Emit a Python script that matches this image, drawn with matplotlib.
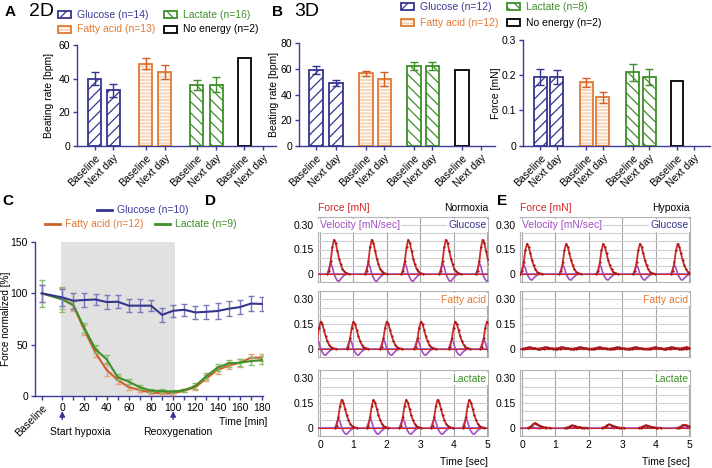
import numpy as np
import matplotlib
matplotlib.use('Agg')
import matplotlib.pyplot as plt
from matplotlib.patches import Rectangle
from matplotlib.lines import Line2D

W, H = 712, 468

# --- bar panels (A, B) ---
conditions = ['Glucose', 'Fatty acid', 'Lactate', 'No energy']
day_labels = ['Baseline', 'Next day']
n_2d = [14, 13, 16, 2]
n_3d = [12, 12, 8, 2]

rate_2d = [40, 33, 49, 44, 36, 36.5, 52, np.nan]
rate_2d_err = [4, 4, 3.5, 4, 3, 4.5, 0, 0]
rate_3d = [59, 49, 56.5, 52, 62.5, 62.5, 59.5, np.nan]
rate_3d_err = [3, 2.5, 2, 5.5, 3, 3, 0, 0]
force_3d = [0.195, 0.195, 0.18, 0.137, 0.208, 0.195, 0.185, np.nan]
force_3d_err = [0.022, 0.02, 0.012, 0.015, 0.025, 0.023, 0, 0]

# --- hypoxia time course (C) ---
hyp_time = [0, 10, 20, 30, 40, 50, 60, 70, 80, 90, 100,
            110, 120, 130, 140, 150, 160, 170, 180]
n_hyp = [10, 12, 9]
# first value = Baseline
glc_force = [100, 96, 92.8, 93.5, 94, 91.5, 91.8, 88, 88, 88, 79,
             83, 84, 81.4, 82, 82.8, 85, 86.5, 90, 89.7]
glc_err = [8, 8, 8, 7, 5.5, 7, 6.5, 6.5, 6, 5.5, 7,
           6, 6, 6.5, 7, 7.5, 7.5, 7, 7, 7]
fa_force = [100, 95, 88, 64, 42, 25.3, 15.6, 8.5, 5.8, 3.3, 2.6,
            2.6, 5.2, 8.5, 17.2, 25.3, 29.5, 32.4, 37.3, 37.3]
fa_err = [8, 10, 5, 5, 4, 6, 4, 3, 2, 1.5, 1.5,
          1.5, 1.5, 2.5, 3, 3.5, 3.5, 4, 3.5, 3.5]
lac_force = [100, 94, 88.6, 66, 45.5, 35.7, 18.2, 14, 8.5, 5.2, 4.9,
             4.2, 5.8, 9.7, 19.5, 27.6, 31.8, 32.4, 34, 35]
lac_err = [13, 12, 4, 5, 4, 4, 3, 2.5, 2, 1.5, 1.5,
           1.5, 1.5, 2.5, 3, 3.5, 3.5, 3.5, 4, 3.5]

# --- force traces (D, E): one beat shape ---
beat_t = [-0.2, -0.15, -0.1, -0.05, 0, 0.05, 0.1, 0.15, 0.2, 0.25, 0.3, 0.35, 0.45]
beat_force = [0, 0.08, 0.38, 0.78, 1, 0.9, 0.68, 0.45, 0.28, 0.15, 0.07, 0.03, 0]
beat_vel = [0, 0.5, 1.0, 0.6, 0, -0.35, -0.6, -0.65, -0.45, -0.28, -0.14, -0.05, 0]

nx_glc_peaks = [0.42, 1.55, 2.64, 3.77, 4.87]
nx_glc_force = [0.21, 0.21, 0.21, 0.21, 0.21]
nx_glc_vel = [0.07, 0.07, 0.07, 0.07, 0.07]
nx_fa_peaks = [0.02, 1.0, 2.0, 3.02, 4.05, 5.0]
nx_fa_force = [0.165, 0.165, 0.165, 0.165, 0.165, 0.165]
nx_fa_vel = [0.06, 0.06, 0.06, 0.06, 0.06, 0.06]
nx_lac_peaks = [0.65, 1.6, 2.58, 3.52, 4.47]
nx_lac_force = [0.17, 0.17, 0.17, 0.17, 0.17]
nx_lac_vel = [0.06, 0.06, 0.06, 0.06, 0.06]

hx_glc_peaks = [0.15, 1.32, 2.43, 3.53, 4.66]
hx_glc_force = [0.185, 0.185, 0.185, 0.185, 0.185]
hx_glc_vel = [0.058, 0.058, 0.058, 0.058, 0.058]
hx_fa_peaks = [0.2, 0.69, 1.18, 1.72, 2.3, 2.84, 3.38, 3.97, 4.46, 4.9]
hx_fa_force = [0.009, 0.009, 0.009, 0.009, 0.009, 0.009, 0.009, 0.009, 0.009, 0.009]
hx_fa_vel = [0.003, 0.003, 0.003, 0.003, 0.003, 0.003, 0.003, 0.003, 0.003, 0.003]
hx_lac_peaks = [0.38, 1.5, 2.6, 3.7, 4.85]
hx_lac_force = [0.028, 0.014, 0.02, 0.015, 0.018]
hx_lac_vel = [0.008, 0.004, 0.006, 0.004, 0.005]

AXIS = '#3c3c96'
GLC = '#35358f'
FA = '#e07a35'
FA_DARK = '#d0602a'
LAC = '#3f8f2a'
FS = 7.5

bar_style = {
    'Glucose': dict(edge=GLC, face='white', hatch='///', hatch_col=GLC),
    'Fatty acid': dict(edge=FA, face='#f7d7bb', hatch='-----', hatch_col='white'),
    'Lactate': dict(edge=LAC, face='white', hatch='\\\\\\', hatch_col=LAC),
    'No energy': dict(edge='black', face='white', hatch='', hatch_col='white'),
}
err_col = {'Glucose': GLC, 'Fatty acid': FA_DARK, 'Lactate': LAC, 'No energy': 'black'}
text_col = {'Glucose': '#3b3b9a', 'Fatty acid': FA, 'Lactate': LAC, 'No energy': 'black'}


def px_axes(fig, left, top, right, bottom):
    return fig.add_axes([left / W, 1 - bottom / H, (right - left) / W, (bottom - top) / H])


def style_axes(ax):
    for s in ['top', 'right']:
        ax.spines[s].set_visible(False)
    for s in ['left', 'bottom']:
        ax.spines[s].set_color(AXIS)
        ax.spines[s].set_linewidth(1.0)
    ax.tick_params(colors=AXIS, labelcolor='black', labelsize=FS, length=3, width=1, pad=2)


def set_ylabel_px(ax, text, x_px, left, right, size=FS):
    # place the y label centre at a given pixel column
    ax.set_ylabel(text, fontsize=size)
    ax.yaxis.label.set_va('center')
    ax.yaxis.set_label_coords((x_px - left) / (right - left), 0.5)


def bar_panel(ax, pos, means, errs, ylim, yticks, yticklabels, width=0.7):
    style_axes(ax)
    for i, (p, m, e) in enumerate(zip(pos, means, errs)):
        if np.isnan(m):
            continue
        cond = conditions[i // 2]
        st = bar_style[cond]
        ax.bar(p, m, width, color=st['face'], edgecolor=st['hatch_col'],
               hatch=st['hatch'], linewidth=0, zorder=2)
        ax.bar(p, m, width, color='none', edgecolor=st['edge'], linewidth=1.3, zorder=3)
        if e > 0:
            ax.errorbar(p, m, yerr=e, color=err_col[cond], capsize=3,
                        elinewidth=1, capthick=1, zorder=4)
    ax.set_xticks(pos)
    ax.set_xticklabels(day_labels * 4, rotation=45, ha='right', rotation_mode='anchor')
    ax.set_ylim(*ylim)
    ax.set_yticks(yticks)
    ax.set_yticklabels(yticklabels)


def legend_box(fig, x, y, cond, label):
    st = bar_style[cond]
    r1 = Rectangle((x / W, 1 - (y + 3.5) / H), 13 / W, 7 / H, transform=fig.transFigure,
                   facecolor=st['face'], edgecolor=st['hatch_col'], hatch=st['hatch'], lw=0)
    r2 = Rectangle((x / W, 1 - (y + 3.5) / H), 13 / W, 7 / H, transform=fig.transFigure,
                   facecolor='none', edgecolor=st['edge'], lw=1.3)
    fig.add_artist(r1)
    fig.add_artist(r2)
    fig.text((x + 19) / W, 1 - y / H, label, color=text_col[cond], va='center', fontsize=FS)


def legend_line(fig, x, y, color, label, tcolor):
    fig.add_artist(Line2D([x / W, (x + 15) / W], [1 - y / H, 1 - y / H], color=color,
                          lw=2, transform=fig.transFigure))
    fig.text((x + 20) / W, 1 - y / H, label, color=tcolor, va='center', fontsize=FS)


def trace_panel(ax, peaks, famp, vamp, cond_label, cond_color, bottom=False):
    xmin, xmax = -0.06, 5.03
    ax.set_xlim(xmin, xmax)
    ax.set_ylim(-0.048, 0.344)
    ax.set_yticks([0, 0.15, 0.30])
    ax.set_yticklabels(['0', '0.15', '0.30'])
    ax.set_yticks(np.arange(-0.05, 0.36, 0.05), minor=True)
    ax.set_xticks([0, 1, 2, 3, 4, 5])
    ax.grid(which='minor', axis='y', color='#cfcfcf', lw=0.8)
    ax.grid(which='major', axis='y', color='#cfcfcf', lw=0.8)
    ax.grid(which='major', axis='x', color='#a5a5a5', lw=0.8)
    ax.tick_params(which='both', length=0, labelsize=FS, pad=3)
    for s in ax.spines.values():
        s.set_color('#b5b5b5')
        s.set_linewidth(0.8)
    if not bottom:
        ax.set_xticklabels([])
    ax.plot([xmin, xmax], [0, 0], color='#a04fc0', lw=1.2, zorder=3)
    for p, f, v in zip(peaks, famp, vamp):
        t = np.array(beat_t) + p
        ax.plot(t, np.array(beat_vel) * v, color='#a04fc0', lw=1.2, zorder=3)
    ax.plot([xmin, xmax], [0, 0], color='#d02a2a', lw=0.8, zorder=4)
    for p, f, v in zip(peaks, famp, vamp):
        t = np.array(beat_t) + p
        ax.plot(t, np.array(beat_force) * f, color='#d02a2a', lw=1.3, marker='o', ms=1.6,
                mfc='#9a1515', mec='none', zorder=4)
    ax.text(0.99, 0.87, cond_label, color=cond_color, fontsize=FS, ha='right', va='center',
            transform=ax.transAxes, zorder=6,
            bbox=dict(facecolor='white', edgecolor='none', pad=1.0))


def main():
    plt.rcParams['font.family'] = ['Liberation Sans', 'DejaVu Sans']
    plt.rcParams['hatch.linewidth'] = 0.9
    fig = plt.figure(figsize=(W / 100, H / 100), dpi=100)

    # A: 2D beating rate
    axA = px_axes(fig, 77, 45, 276, 146)
    posA = [0, 1, 2.73, 3.75, 5.45, 6.5, 8.0, 9.0]
    bar_panel(axA, posA, rate_2d, rate_2d_err, (0, 60),
              [0, 20, 40, 60], ['0', '20', '40', '60'])
    axA.set_xlim(-0.94, 9.7)
    set_ylabel_px(axA, 'Beating rate [bpm]', 49, 77, 276)

    # B: 3D beating rate and force
    axB1 = px_axes(fig, 299, 43.3, 495, 146)
    posB1 = [0, 1, 2.5, 3.42, 4.9, 5.82, 7.3, 8.25]
    bar_panel(axB1, posB1, rate_3d, rate_3d_err, (0, 80),
              [0, 20, 40, 60, 80], ['0', '20', '40', '60', '80'], width=0.68)
    axB1.set_xlim(-0.85, 8.95)
    set_ylabel_px(axB1, 'Beating rate [bpm]', 274, 299, 495)

    axB2 = px_axes(fig, 523, 40, 710, 145.7)
    posB2 = [0, 1, 2.79, 3.79, 5.6, 6.6, 8.3, 9.3]
    bar_panel(axB2, posB2, force_3d, force_3d_err, (0, 0.3),
              [0, 0.1, 0.2, 0.3], ['0', '0.1', '0.2', '0.3'], width=0.78)
    axB2.set_xlim(-1.06, 10.3)
    set_ylabel_px(axB2, 'Force [mN]', 496, 523, 710)

    # legends and titles for A/B
    fig.text(5 / W, 1 - 12 / H, 'A', fontsize=11, fontweight='bold', va='center')
    fig.text(29 / W, 1 - 11 / H, '2D', fontsize=14, va='center')
    fig.text(272 / W, 1 - 12 / H, 'B', fontsize=11, fontweight='bold', va='center')
    fig.text(294 / W, 1 - 11 / H, '3D', fontsize=14, va='center')
    legend_box(fig, 58, 14.5, 'Glucose', f'Glucose (n={n_2d[0]})')
    legend_box(fig, 164, 14.5, 'Lactate', f'Lactate (n={n_2d[2]})')
    legend_box(fig, 58, 29.5, 'Fatty acid', f'Fatty acid (n={n_2d[1]})')
    legend_box(fig, 164, 29.5, 'No energy', f'No energy (n={n_2d[3]})')
    legend_box(fig, 401, 6.7, 'Glucose', f'Glucose (n={n_3d[0]})')
    legend_box(fig, 507, 6.7, 'Lactate', f'Lactate (n={n_3d[2]})')
    legend_box(fig, 401, 22.5, 'Fatty acid', f'Fatty acid (n={n_3d[1]})')
    legend_box(fig, 507, 22.5, 'No energy', f'No energy (n={n_3d[3]})')

    # C: hypoxia time course
    axC = px_axes(fig, 35, 242, 263, 396)
    style_axes(axC)
    baseline_x = -18.5
    x = [baseline_x] + hyp_time
    axC.axvspan(-1.5, 102, color='#e1e1e1', lw=0, zorder=0)
    axC.errorbar(x, fa_force, yerr=fa_err, color=FA_DARK, ecolor='#eba27a', lw=1.5,
                 elinewidth=1, capsize=2.2, capthick=1, zorder=3)
    axC.errorbar(x, lac_force, yerr=lac_err, color=LAC, ecolor='#86c071', lw=1.5,
                 elinewidth=1, capsize=2.2, capthick=1, zorder=4)
    axC.errorbar(x, glc_force, yerr=glc_err, color=GLC, ecolor='#7a7ab8', lw=1.5,
                 elinewidth=1, capsize=2.5, capthick=1, zorder=5)
    axC.set_xlim(-24.6, 181)
    axC.set_ylim(0, 150)
    axC.set_yticks([0, 50, 100, 150])
    axC.set_xticks(x)
    xl = ['Baseline'] + [str(t) if t % 20 == 0 else '' for t in hyp_time]
    axC.set_xticklabels(xl)
    tl = axC.get_xticklabels()
    tl[0].set_rotation(45)
    tl[0].set_ha('right')
    tl[0].set_rotation_mode('anchor')
    set_ylabel_px(axC, 'Force normalized [%]', 6.5, 35, 263, size=7.2)
    axC.text(1.02, -0.17, 'Time [min]', fontsize=FS, ha='right', va='center',
             transform=axC.transAxes)
    trans = axC.get_xaxis_transform()
    for t0, label, lx in [(0, 'Start hypoxia', -11.5), (100, 'Reoxygenation', 73)]:
        axC.annotate('', xy=(t0, -0.08), xytext=(t0, -0.17), xycoords=trans, textcoords=trans,
                     arrowprops=dict(arrowstyle='-|>', color=GLC, lw=1.0, mutation_scale=8))
        axC.text(lx, -0.235, label, fontsize=FS, ha='left', va='center', transform=trans)
    fig.text(2 / W, 1 - 201 / H, 'C', fontsize=11, fontweight='bold', va='center')
    legend_line(fig, 97, 210, GLC, f'Glucose (n={n_hyp[0]})', '#3b3b9a')
    legend_line(fig, 45, 224, FA_DARK, f'Fatty acid (n={n_hyp[1]})', FA)
    legend_line(fig, 155, 224, LAC, f'Lactate (n={n_hyp[2]})', LAC)

    # D / E: force traces
    rows = [(217, 282), (291, 357), (370, 436)]
    d_data = [(nx_glc_peaks, nx_glc_force, nx_glc_vel, 'Glucose', GLC),
              (nx_fa_peaks, nx_fa_force, nx_fa_vel, 'Fatty acid', FA),
              (nx_lac_peaks, nx_lac_force, nx_lac_vel, 'Lactate', LAC)]
    e_data = [(hx_glc_peaks, hx_glc_force, hx_glc_vel, 'Glucose', GLC),
              (hx_fa_peaks, hx_fa_force, hx_fa_vel, 'Fatty acid', FA),
              (hx_lac_peaks, hx_lac_force, hx_lac_vel, 'Lactate', LAC)]
    for (left, right, data, cond_name, letter, lx) in [
            (318, 488, d_data, 'Normoxia', 'D', 205),
            (520, 690, e_data, 'Hypoxia', 'E', 497)]:
        for k, ((top, bot), (pk, fa_, va_, lab, col)) in enumerate(zip(rows, data)):
            ax = px_axes(fig, left, top, right, bot)
            trace_panel(ax, pk, fa_, va_, lab, col, bottom=(k == 2))
            if k == 0:
                ax.text(0.0, 1.14, 'Force [mN]', color='#d02a2a', fontsize=FS,
                        ha='left', va='center', transform=ax.transAxes)
                ax.text(1.0, 1.14, cond_name, color='black', fontsize=FS,
                        ha='right', va='center', transform=ax.transAxes)
                ax.text(0.01, 0.87, 'Velocity [mN/sec]', color='#a04fc0', fontsize=FS,
                        ha='left', va='center', transform=ax.transAxes, zorder=6,
                        bbox=dict(facecolor='white', edgecolor='none', pad=1.0))
            if k == 2:
                ax.text(1.0, -0.4, 'Time [sec]', fontsize=FS, ha='right', va='center',
                        transform=ax.transAxes)
        fig.text(lx / W, 1 - 201 / H, letter, fontsize=11, fontweight='bold', va='center')

    fig.savefig('out.png', dpi=100)


if __name__ == '__main__':
    main()
